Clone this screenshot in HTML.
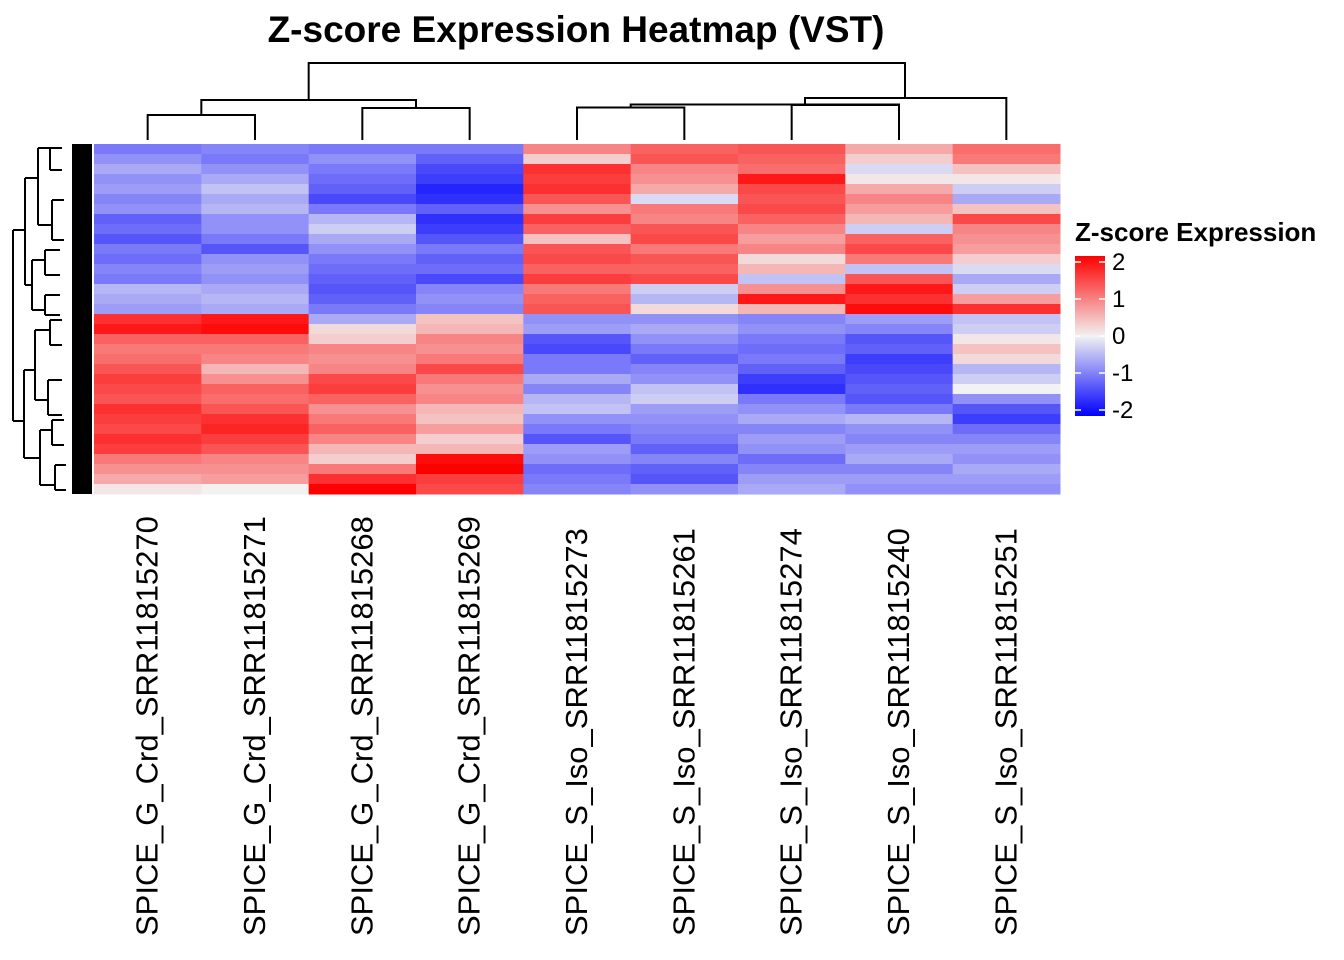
<!DOCTYPE html>
<html><head><meta charset="utf-8"><style>
body{margin:0;background:#fff;}
svg{display:block;font-family:"Liberation Sans",Arial,sans-serif;}
</style></head><body>
<svg id="chart" width="1344" height="960">
<text x="576" y="42" text-anchor="middle" font-size="37" font-weight="bold">Z-score Expression Heatmap (VST)</text>
<g id="cells"></g>
<g id="coldend" stroke="#000" stroke-width="2" fill="none"></g>
<g id="rowdend" stroke="#000" stroke-width="2" fill="none"></g>
<g id="labels"></g>
<g id="legend">
<text x="1075" y="241" font-size="26" font-weight="bold">Z-score Expression</text>
<defs><linearGradient id="lg" x1="0" y1="1" x2="0" y2="0"><stop offset="0" stop-color="#0000ff"/><stop offset="0.5" stop-color="#f2f2f2"/><stop offset="1" stop-color="#ff0000"/></linearGradient></defs>
<rect x="1075" y="256" width="30" height="160" fill="url(#lg)"/>
<g id="legticks"></g>
</g>
</svg>
<script>
const samples=["SPICE_G_Crd_SRR11815270","SPICE_G_Crd_SRR11815271","SPICE_G_Crd_SRR11815268","SPICE_G_Crd_SRR11815269","SPICE_S_Iso_SRR11815273","SPICE_S_Iso_SRR11815261","SPICE_S_Iso_SRR11815274","SPICE_S_Iso_SRR11815240","SPICE_S_Iso_SRR11815251"];
const col1=[-1,-0.8,-0.6,-0.8,-0.7,-0.9,-0.8,-1.2,-1.1,-1.3,-1.0,-1.1,-0.9,-1.0,-0.5,-0.6,-0.7,1.6,1.8,1.2,1.0,1.1,1.3,1.5,1.4,1.3,1.6,1.5,1.4,1.6,1.5,1.0,0.8,0.6,0.1];
const col2=[-0.9,-1.0,-0.8,-0.6,-0.4,-0.6,-0.5,-0.8,-0.8,-1.0,-1.3,-0.8,-0.7,-0.8,-0.6,-0.5,-0.6,1.8,1.9,1.2,1.0,0.9,0.5,0.8,1.2,1.1,1.3,1.6,1.7,1.5,1.3,0.9,0.8,0.7,0.0];
const col3=[-1.0,-0.8,-1.0,-1.1,-1.2,-1.4,-1.0,-0.5,-0.3,-0.6,-0.8,-1.0,-1.1,-1.2,-1.3,-1.2,-1.0,-0.6,0.2,0.3,0.9,0.8,0.9,1.4,1.5,1.2,0.8,1.0,1.2,0.9,0.5,0.3,1.0,1.6,2.0];
const col4=[-1.0,-1.2,-1.4,-1.5,-1.7,-1.6,-1.2,-1.6,-1.5,-1.3,-1.0,-1.2,-1.1,-1.4,-0.9,-0.8,-0.9,0.4,0.5,0.9,0.8,1.0,1.4,1.0,0.8,0.9,0.5,0.4,0.7,0.3,0.5,1.9,2.0,1.5,1.4];
const col5=[0.9,0.3,1.6,1.5,1.6,1.3,0.8,1.5,1.2,0.4,1.3,1.4,1.2,1.5,1.0,1.2,1.3,-0.8,-0.7,-1.3,-1.4,-1.0,-1.0,-0.6,-0.9,-0.5,-0.4,-0.8,-1.0,-1.3,-0.7,-0.8,-1.1,-1.0,-0.9];
const col6=[1.2,1.3,0.9,0.8,0.6,-0.2,1.0,0.9,1.3,1.4,1.0,1.3,1.2,1.4,-0.3,-0.5,0.2,-0.8,-0.6,-0.8,-1.0,-1.2,-0.9,-0.8,-0.4,-0.3,-0.7,-0.8,-0.9,-1.0,-1.2,-0.9,-1.2,-1.3,-0.8];
const col7=[1.3,1.2,1.1,1.8,1.4,1.3,1.4,1.2,0.9,0.7,0.9,0.2,0.5,-0.4,0.8,1.8,0.5,-0.9,-0.8,-1.0,-1.1,-1.0,-1.2,-1.5,-1.6,-1.0,-0.8,-0.6,-0.9,-0.7,-0.8,-1.1,-0.9,-0.7,-0.6];
const col8=[0.6,0.3,-0.2,0.1,0.6,0.9,0.7,0.5,-0.3,1.2,1.4,1.0,-0.4,1.3,1.8,1.6,1.9,-0.7,-0.9,-1.3,-1.2,-1.5,-1.4,-1.3,-1.2,-1.3,-1.0,-0.5,-0.8,-0.9,-0.7,-0.6,-0.9,-0.7,-0.8];
const col9=[1.1,1.0,0.4,0.1,-0.3,-0.6,0.4,1.4,0.9,0.8,0.7,0.3,-0.2,-0.6,-0.3,0.7,1.6,-0.4,-0.3,0.1,0.4,0.2,-0.5,-0.3,0.0,-0.8,-1.3,-1.5,-1.1,-0.9,-0.7,-0.8,-0.6,-0.7,-0.8];
const legendTicks=[2,1,0,-1,-2];
const columns=[col1,col2,col3,col4,col5,col6,col7,col8,col9];
const NS="http://www.w3.org/2000/svg";
const X0=94,X1=1060,Y0=144,Y1=494;
const cw=(X1-X0)/samples.length;
const colX=i=>X0+cw*i;
const rowY=(j,n)=>Y0+(Y1-Y0)*j/n;
function color(v){
  v=Math.max(-2,Math.min(2,v));const t=Math.abs(v)/2;const w=242;
  const a=Math.round(w*(1-t));
  return v>=0?`rgb(${Math.round(w+(255-w)*t)},${a},${a})`:`rgb(${a},${a},${Math.round(w+(255-w)*t)})`;
}
function mk(tag,attrs,parent){const e=document.createElementNS(NS,tag);for(const k in attrs)e.setAttribute(k,attrs[k]);parent.appendChild(e);return e;}
const cells=document.getElementById('cells');
columns.forEach((col,i)=>{col.forEach((v,j)=>{
  const r=mk('rect',{x:colX(i),y:rowY(j,col.length),width:cw+0.5,height:rowY(1,col.length)-Y0+0.5,fill:color(v)},cells);
  
  
});});
const labels=document.getElementById('labels');
samples.forEach((s,i)=>{
  const cx=colX(i)+cw/2+10;
  const t=mk('text',{x:0,y:0,transform:`translate(${cx},936) rotate(-90)`,'font-size':'31'},labels);
  t.textContent=s;
  
  
});
const lc=i=>colX(i)+cw/2;
const cd=document.getElementById('coldend');
function link(xa,ya,xb,yb,h){mk('path',{d:`M${xa},${ya}V${h}H${xb}V${yb}`},cd);}
link(lc(0),140,lc(1),140,115);link(lc(2),140,lc(3),140,108);
const g1=(lc(0)+lc(1))/2,g2=(lc(2)+lc(3))/2;link(g1,115,g2,108,100);
link(lc(4),140,lc(5),140,107.5);link(lc(6),140,lc(7),140,105);
const s1=(lc(4)+lc(5))/2;link(s1,107.5,lc(7),105,104.5);
mk('path',{d:`M805,104.5V98H${lc(8)}V140`},cd);
mk('path',{d:`M${(g1+g2)/2},100V63H905V98`},cd);
const rd=document.getElementById('rowdend');
const rp=["M13,230V421","M13,230H25","M13,421H24","M25,178V285","M25,178H38","M25,285H32","M24,370V458","M24,370H35","M24,458H40",
"M38,148V225","M38,148H50","M38,225H52","M32,260V310","M32,260H45","M32,310H45","M35,330V400","M35,330H50","M35,400H48","M40,430V485","M40,430H52","M40,485H55",
"M50,148V170","M50,148H62","M50,170H62","M52,200V240","M52,200H64","M52,240H64","M45,250V275","M45,250H60","M45,275H60","M45,295V315","M45,295H60","M45,315H60","M50,320V345","M50,320H62","M50,345H62","M48,380V415","M48,380H62","M48,415H62","M52,420V445","M52,420H64","M52,445H64","M55,465V490","M55,465H66","M55,490H66"];
rp.forEach(d=>mk('path',{d:d},rd));
const blk=mk('rect',{x:72,y:144,width:20,height:350,fill:'#000',stroke:'none'},rd);


const lt=document.getElementById('legticks');
const ly=v=>336-v*37;
legendTicks.forEach(v=>{
  mk('line',{x1:1075,x2:1081,y1:ly(v),y2:ly(v),stroke:'#fff','stroke-width':1.5},lt);
  mk('line',{x1:1099,x2:1105,y1:ly(v),y2:ly(v),stroke:'#fff','stroke-width':1.5},lt);
  const t=mk('text',{x:1112,y:ly(v)+8,'font-size':'24'},lt);
  t.textContent=v<0?'-'+Math.abs(v):String(v);
  
  
});
</script>
</body></html>
